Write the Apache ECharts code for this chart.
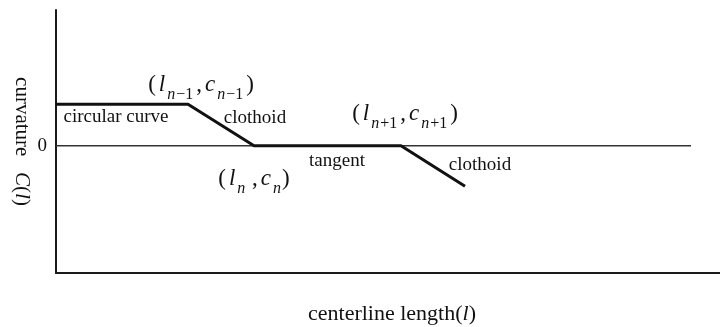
<!DOCTYPE html>
<html>
<head>
<meta charset="utf-8">
<script src="https://cdn.jsdelivr.net/npm/echarts@6/dist/echarts.min.js"></script>
<style>
  html, body { margin: 0; padding: 0; background: #fff; }
  #chart { width: 720px; height: 327px; }
</style>
</head>
<body>
<div id="chart"></div>
<script>
// centerline length l and curvature c at the break points of the profile
var lengths = [0, 132, 198, 345, 409]
var curvatures = [1, 1, 0, 0, -0.98]
// reference line c = 0
var zeroLine = [[0, 0], [635, 0]]
var yTickValues = [0]

var serif = 'Liberation Serif, Times New Roman, serif'
var mathRich = {
  p: { fontFamily: serif, fontSize: 23, color: '#111', lineHeight: 30, padding: [0, 1, 0, 1] },
  i: { fontFamily: serif, fontSize: 23, fontStyle: 'italic', color: '#111', lineHeight: 30, padding: [0, 1, 0, 2] },
  s: { fontFamily: serif, fontSize: 16, fontStyle: 'italic', color: '#111', lineHeight: 16, padding: [20, 0, 0, 1] },
  t: { fontFamily: serif, fontSize: 16, color: '#111', lineHeight: 16, padding: [20, 2, 0, 1] }
}
var plainLabel = { fontFamily: serif, fontSize: 19, color: '#111' }

function note (coord, text, style) {
  return {
    coord: coord,
    symbol: 'circle',
    symbolSize: 1,
    itemStyle: { color: 'rgba(0,0,0,0)' },
    label: Object.assign({ show: true, position: 'inside', formatter: text }, style)
  }
}

var chart = echarts.init(document.getElementById('chart'))

var option = {
  animation: false,
  grid: { left: 56, right: 0, top: 10, bottom: 54, outerBoundsMode: 'none' },
  xAxis: {
    type: 'value',
    min: 0,
    max: 664,
    name: 'centerline length({i|l})',
    nameLocation: 'middle',
    nameGap: 30,
    nameTextStyle: {
      fontFamily: serif, fontSize: 22, color: '#111', padding: [0, 0, 0, 8],
      rich: { i: { fontFamily: serif, fontSize: 22, fontStyle: 'italic', color: '#111' } }
    },
    axisLine: { onZero: false, lineStyle: { color: '#1a1a1a', width: 2 } },
    axisTick: { show: false },
    axisLabel: { show: false },
    splitLine: { show: false }
  },
  yAxis: {
    type: 'value',
    min: -3.07,
    max: 3.27,
    name: 'curvature   {i|C}({i|l})',
    nameLocation: 'middle',
    nameRotate: -90,
    nameGap: 24,
    nameMoveOverlap: false,
    nameTextStyle: {
      fontFamily: serif, fontSize: 21, color: '#111',
      rich: { i: { fontFamily: serif, fontSize: 21, fontStyle: 'italic', color: '#111' } }
    },
    axisLine: { show: true, onZero: false, lineStyle: { color: '#1a1a1a', width: 2 } },
    axisTick: { show: false },
    axisLabel: {
      customValues: yTickValues,
      fontFamily: serif, fontSize: 19, color: '#111', margin: 9
    },
    splitLine: { show: false }
  },
  series: [
    {
      name: 'zero',
      type: 'line',
      data: zeroLine,
      symbol: 'none',
      silent: true,
      lineStyle: { color: '#333', width: 1.5 }
    },
    {
      name: 'curvature',
      type: 'line',
      data: lengths.map(function (l, i) { return [l, curvatures[i]] }),
      symbol: 'none',
      lineStyle: { color: '#111', width: 3 },
      markPoint: {
        silent: true,
        data: [
          note([145, 1.47], '{p|(}{i|l}{s|n}{t|−1}{p|,}{i|c}{s|n}{t|−1}{p|)}', { rich: mathRich }),
          note([198, -0.8], '{p|(}{i|l}{s|n}{p| ,}{i|c}{s|n}{p|)}', { rich: mathRich }),
          note([349, 0.77], '{p|(}{i|l}{s|n}{t|+1}{p|,}{i|c}{s|n}{t|+1}{p|)}', { rich: mathRich }),
          note([60, 0.69], 'circular curve', plainLabel),
          note([199, 0.66], 'clothoid', plainLabel),
          note([281, -0.37], 'tangent', plainLabel),
          note([424, -0.47], 'clothoid', plainLabel)
        ]
      }
    }
  ]
}

chart.setOption(option)
</script>
</body>
</html>
